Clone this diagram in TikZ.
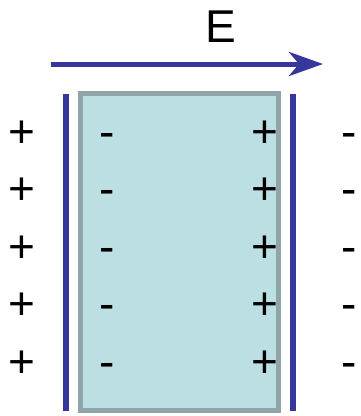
\documentclass[tikz,border=0pt]{standalone}
\usepackage{fontspec}
\setmainfont{Liberation Sans}
\usetikzlibrary{arrows.meta}
\definecolor{plateblue}{HTML}{36369C}
\definecolor{slabfill}{HTML}{BBDFE2}
\definecolor{slabedge}{HTML}{8FA5A7}
\begin{document}
\begin{tikzpicture}[x=1pt,y=-1pt,
  charge/.style={anchor=base,inner sep=0pt,font=\fontsize{46}{46}\selectfont},
  plate/.style={draw=plateblue,line width=5.5pt},
  field/.style={draw=plateblue,line width=5pt,-{Stealth[length=34pt,width=24pt,inset=10pt]}}]
\useasboundingbox (0,0) rectangle (360,416);
% slab
\node[draw=slabedge,fill=slabfill,line width=5pt,minimum width=198pt,minimum height=317pt,inner sep=0pt,outer sep=0pt,anchor=north west] (slab) at (80.5,93.5) {};
% plates
\coordinate (lt) at (66,94); \coordinate (lb) at (66,410.5);
\coordinate (rt) at (293,94); \coordinate (rb) at (293,410.5);
\draw[plate] (lt) -- (lb);
\draw[plate] (rt) -- (rb);
% field arrow
\coordinate (fs) at (51,64); \coordinate (fe) at (323,64);
\draw[field] (fs) -- (fe);
\node[charge] (E) at (221,42) {E};
% charges
\foreach \i/\y in {1/147,2/204.5,3/262,4/319.5,5/377}{
  \node[charge] (lp\i) at (22,\y) {+};
  \node[charge] (sm\i) at (107,\y) {-};
  \node[charge] (sp\i) at (264.5,\y) {+};
  \node[charge] (rm\i) at (349,\y) {-};
}
\end{tikzpicture}
\end{document}
